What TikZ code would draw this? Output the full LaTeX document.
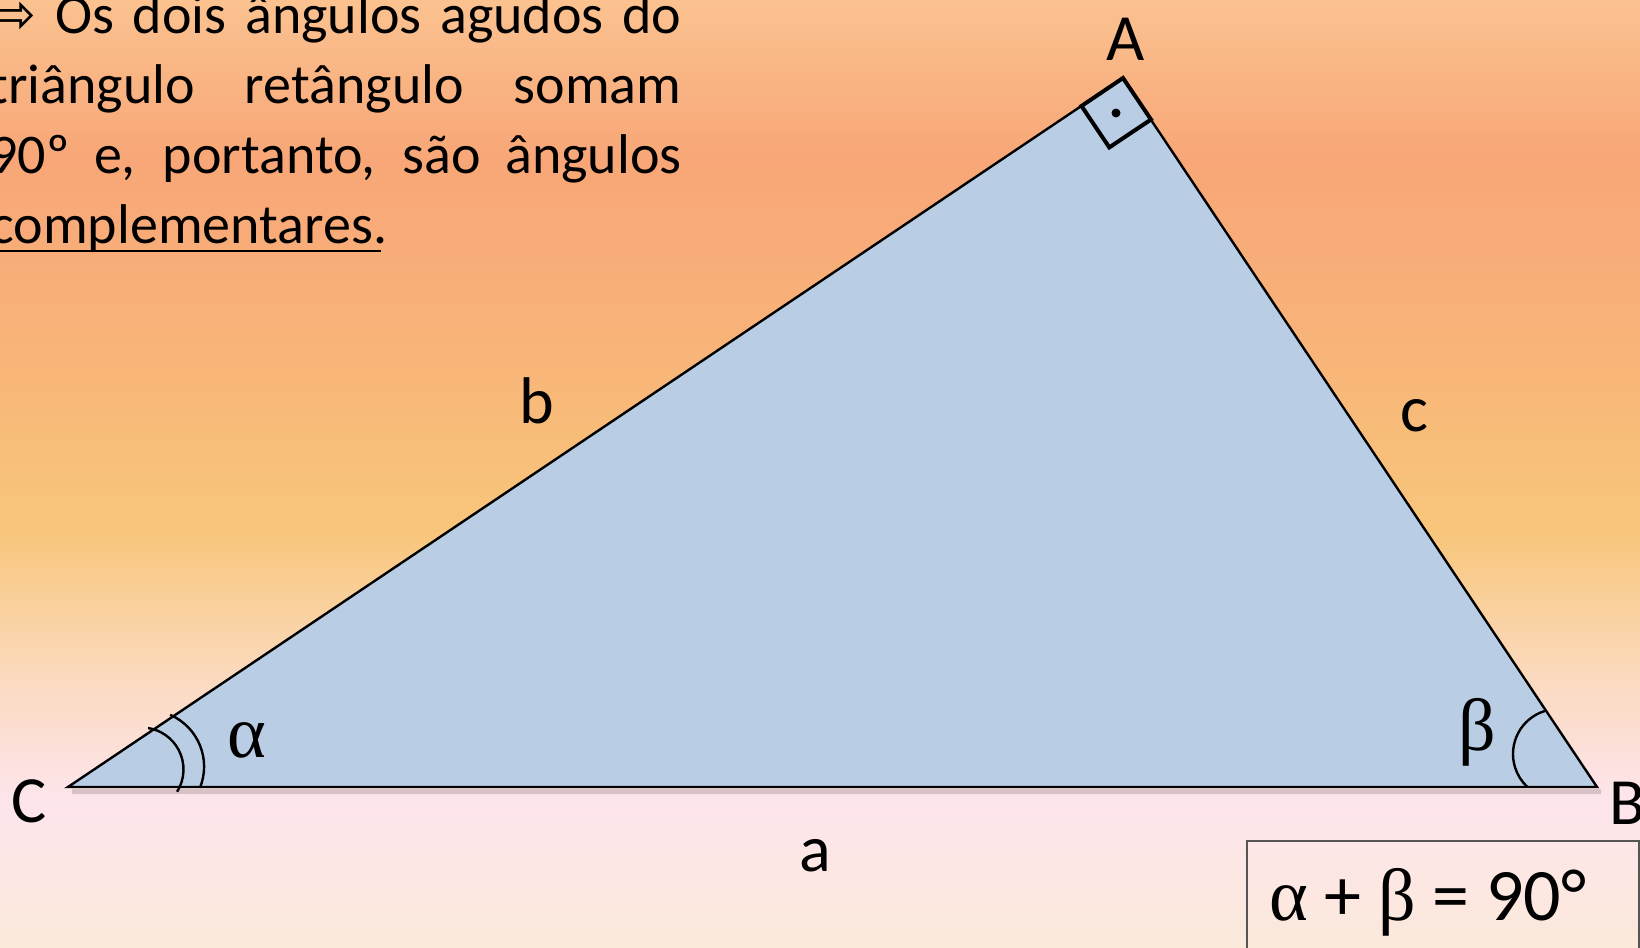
\documentclass[tikz,border=0pt]{standalone}
\usepackage{fontspec}
\setmainfont{Carlito}
\newfontfamily\arrowfont{DejaVu Sans}
\newfontfamily\greekfont{Liberation Serif}
\usetikzlibrary{calc}
\definecolor{bg0}{HTML}{FBC290}
\definecolor{bg1}{HTML}{F8A677}
\definecolor{bg2}{HTML}{F8B479}
\definecolor{bg3}{HTML}{F8C67A}
\definecolor{bg4}{HTML}{FBDAC0}
\definecolor{bg5}{HTML}{FDE5EC}
\definecolor{bg6}{HTML}{FBE9DA}
\definecolor{tri}{HTML}{B9CDE5}
\definecolor{boxgray}{HTML}{555555}
\begin{document}
\begin{tikzpicture}[x=0.5pt,y=0.5pt,
  lbl/.style={font=\fontsize{33}{40}\selectfont, inner sep=0pt},
  grk/.style={font=\fontsize{37}{44}\selectfont, inner sep=0pt},
  para/.style={font=\fontsize{28}{34}\selectfont, inner sep=0pt},
  edgeline/.style={line width=1.2pt, line join=miter},
  angmark/.style={line width=1.2pt},
  sqmark/.style={line width=2pt, line join=miter}]
\useasboundingbox (0,0) rectangle (1640,-948);
% background gradient
\shade[top color=bg0,bottom color=bg1] (0,1) rectangle (1640,-161);
\shade[top color=bg1,bottom color=bg2] (0,-160) rectangle (1640,-351);
\shade[top color=bg2,bottom color=bg3] (0,-350) rectangle (1640,-531);
\shade[top color=bg3,bottom color=bg4] (0,-530) rectangle (1640,-681);
\shade[top color=bg4,bottom color=bg5] (0,-680) rectangle (1640,-801);
\shade[top color=bg5,bottom color=bg6] (0,-800) rectangle (1640,-949);
% triangle
\coordinate (C) at (68,-787);
\coordinate (A) at (1123,-78);
\coordinate (B) at (1597,-787);
\draw[black, opacity=0.15, line width=2.5pt] ($(C)+(4,-4)$) -- ($(B)+(4,-4)$);
\filldraw[fill=tri, draw=black, edgeline] (C) -- (A) -- (B) -- cycle;
% right angle mark
\coordinate (S1) at (1081.5,-106);
\coordinate (S2) at (1109.3,-147.4);
\coordinate (S3) at (1151,-119.5);
\coordinate (Sd) at (1116,-113);
\draw[sqmark] (A) -- (S1) -- (S2) -- (S3) -- cycle;
\fill (Sd) circle (4.5);
% angle arcs
\coordinate (ci) at (141.5,-769.5);
\coordinate (co) at (147.6,-766.6);
\coordinate (cb) at (1558,-754);
\draw[angmark] (ci) ++(-32:42) arc[start angle=-32, end angle=81, radius=42];
\draw[angmark] (co) ++(-22:56.5) arc[start angle=-22, end angle=66.5, radius=56.5];
\draw[angmark] (cb) ++(107:45) arc[start angle=107, end angle=227, radius=45];
% labels
\node[lbl] (lA) at (1126,-39) {A};
\node[lbl] (lb) at (537,-401) {b};
\node[lbl] (lc) at (1414,-416) {c};
\node[lbl] (la) at (815,-856) {a};
\node[lbl] (lC) at (29,-801) {C};
\node[lbl] (lB) at (1627,-803) {B};
\node[grk] (alpha) at (247,-740) {\greekfont α};
\node[grk] (beta) at (1477,-732) {\greekfont β};
% formula box
\coordinate (b1) at (1247,-960);
\coordinate (b2) at (1247,-841);
\coordinate (b3) at (1639,-841);
\coordinate (b4) at (1639,-960);
\draw[boxgray, line width=0.8pt] (b1) -- (b2) -- (b3) -- (b4);
\node[grk, anchor=base west] (eq) at (1269,-920) {{\greekfont α} + {\greekfont β} = 90°};
% paragraph
\node[para, anchor=base east] (p1) at (682,-33) {\makebox[346pt][s]{{\arrowfont ⇨} Os dois ângulos agudos do}};
\node[para, anchor=base east] (p2) at (682,-103) {\makebox[346pt][s]{triângulo retângulo somam}};
\node[para, anchor=base east] (p3) at (682,-173) {\makebox[346pt][s]{90º e, portanto, são ângulos}};
\node[para, anchor=base west] (p4) at (-10,-243) {complementares.};
\coordinate (u1) at (-10,-251);
\coordinate (u2) at (381,-251);
\draw[line width=1.4pt] (u1) -- (u2);
\end{tikzpicture}
\end{document}
